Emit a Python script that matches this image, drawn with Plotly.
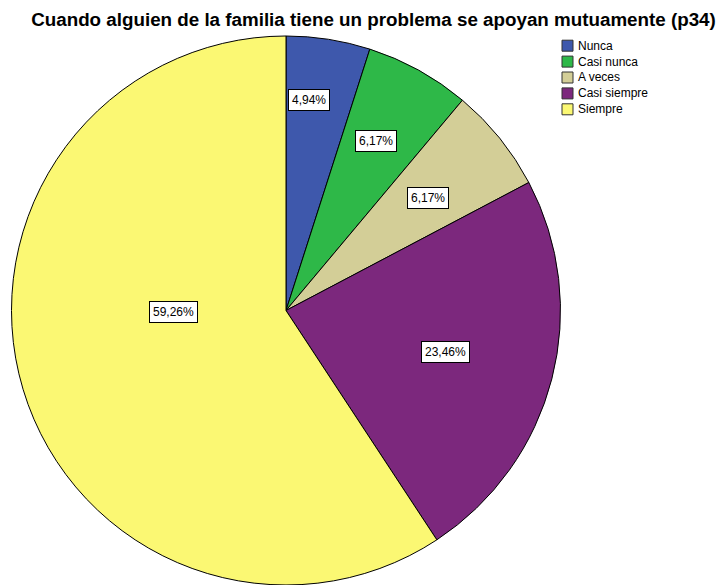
import math
import plotly.graph_objects as go

# Survey item p34: response distribution (percent)
categories = ["Nunca", "Casi nunca", "A veces", "Casi siempre", "Siempre"]
percentages = [4.94, 6.17, 6.17, 23.46, 59.26]
colors = ["#3E58AC", "#2EB848", "#D3CE97", "#7C287D", "#FBF873"]

# boxed label placement: radius as fraction of pie radius, and angular nudge (deg)
label_radius = [0.77, 0.70, 0.66, 0.60, 0.41]
label_nudge = [-2.6, -1.1, 0.6, 0.3, 15.8]

W, H = 722, 585
FONT = "Liberation Sans, Arial"
dom_x = [11 / W, 561 / W]
dom_y = [0.0, 549 / H]

fig = go.Figure(
    go.Pie(
        labels=categories,
        values=percentages,
        sort=False,
        direction="clockwise",
        rotation=0,
        marker=dict(colors=colors, line=dict(color="#000000", width=1)),
        textinfo="none",
        hoverinfo="label+percent",
        domain=dict(x=dom_x, y=dom_y),
        showlegend=False,
    )
)

# boxed percentage labels, placed around each slice's mid-angle
cx = (dom_x[0] + dom_x[1]) / 2 * W
cy = H - (dom_y[0] + dom_y[1]) / 2 * H
radius = min((dom_x[1] - dom_x[0]) * W, (dom_y[1] - dom_y[0]) * H) / 2
total = sum(percentages)
cum = 0.0
for val, rf, nudge in zip(percentages, label_radius, label_nudge):
    mid = (cum + val / 2) / total * 2 * math.pi + math.radians(nudge)
    cum += val
    px = cx + rf * radius * math.sin(mid)
    py = cy - rf * radius * math.cos(mid)
    fig.add_annotation(
        x=px / W, y=1 - py / H, xref="paper", yref="paper",
        xanchor="center", yanchor="middle",
        text=f"{val:.2f}%".replace(".", ","),
        showarrow=False,
        font=dict(family=FONT, size=12, color="#000000"),
        bgcolor="#FFFFFF", bordercolor="#000000", borderwidth=1, borderpad=3,
    )

# compact legend: bordered swatch + category name per row
leg_x, leg_y, row_h, sw = 562, 45.7, 15.9, 11
for i, (name, col) in enumerate(zip(categories, colors)):
    yc = leg_y + i * row_h
    fig.add_shape(
        type="rect", xref="paper", yref="paper",
        x0=leg_x / W, x1=(leg_x + sw) / W,
        y0=1 - (yc + sw / 2) / H, y1=1 - (yc - sw / 2) / H,
        fillcolor=col, line=dict(color="#333333", width=1),
    )
    fig.add_annotation(
        x=(leg_x + sw + 3) / W, y=1 - yc / H, xref="paper", yref="paper",
        xanchor="left", yanchor="middle", text=name, showarrow=False,
        font=dict(family=FONT, size=12, color="#000000"),
    )

fig.update_layout(
    width=W, height=H,
    margin=dict(l=0, r=0, t=0, b=0),
    paper_bgcolor="#FFFFFF",
    showlegend=False,
    title=dict(
        text="<b>Cuando alguien de la familia tiene un problema se apoyan mutuamente (p34)</b>",
        x=373.5 / W, xanchor="center", y=1 - 19 / H, yanchor="middle",
        font=dict(family=FONT, size=18.8, color="#000000"),
    ),
)

fig.write_html("out.html")
